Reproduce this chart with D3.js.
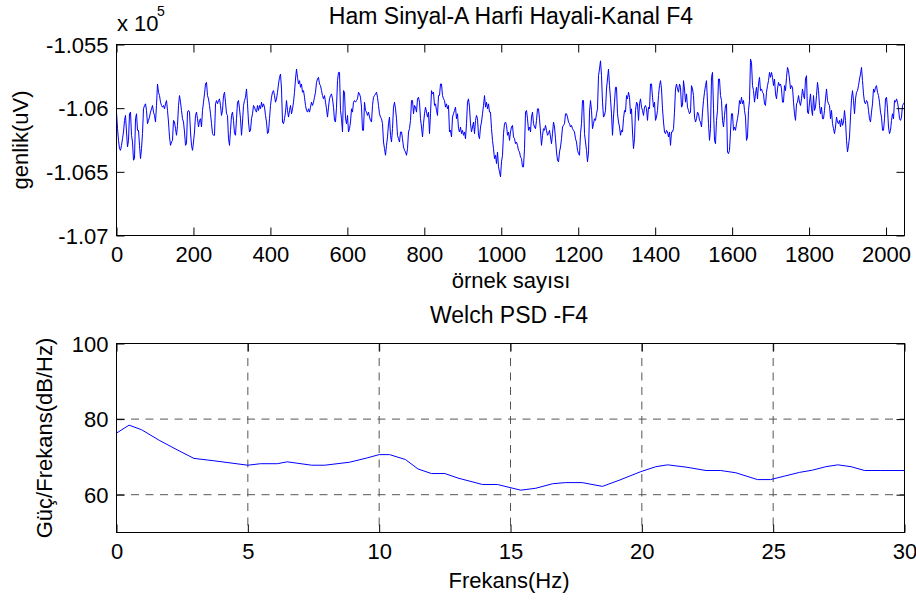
<!DOCTYPE html>
<html>
<head>
<meta charset="utf-8">
<script src="https://cdn.jsdelivr.net/npm/d3@7"></script>
<style>
  body { margin: 0; background: #fff; }
  text { font-family: "Liberation Sans", Arial, sans-serif; fill: #000; }
</style>
</head>
<body>
<script>
// raw EEG signal, one reading every ~2.6 samples (uV)
const rawSignal = [
  -106031, -106161, -106253, -106318, -106331, -106292, -106240, -106187, -106096, -106057, -106187, -106305, -106253, -106044, -106031,
  -106213, -106266, -106409, -106396, -106083, -106044, -106174, -106174, -106292, -106396, -106318, -106200, -106005, -105979, -105966,
  -106018, -106122, -106096, -106070, -106031, -106005, -105979, -106031, -106057, -106109, -105979, -105810, -105875, -105901, -105953,
  -105979, -105992, -105979, -106005, -105966, -105940, -106018, -106109, -106226, -106292, -106266, -106253, -106096, -106109, -106161,
  -106213, -106135, -105979, -105901, -105953, -106018, -106083, -106109, -106187, -106292, -106279, -106031, -106018, -106031, -106187,
  -106292, -106331, -106266, -106187, -106057, -106031, -106083, -106148, -106096, -106083, -106148, -106018, -105953, -105888, -105810,
  -105797, -105901, -105927, -105979, -106044, -106122, -106200, -106213, -106213, -105966, -105940, -105966, -105940, -105927, -105979,
  -106057, -106018, -105901, -105875, -105953, -106044,
  // ~290 - 580
  -106057, -106240, -106292, -106174, -106057, -106031, -106096, -106200, -106213, -106083, -105953, -105940, -106005, -106083, -106213,
  -106109, -105979, -105940, -105914, -105849, -105966, -106109, -106187, -106174, -106083, -106044, -105979, -105992, -106018, -106031,
  -105979, -106018, -105979, -106005, -105953, -105992, -105966, -105992, -106057, -106109, -106200, -106187, -106083, -105979, -105914,
  -105875, -105862, -105901, -105953, -105927, -105875, -105810, -105758, -105732, -105849, -106109, -106122, -106083, -106031, -105940,
  -106018, -106070, -106018, -105979, -106044, -106005, -105953, -105875, -105771, -105693, -105758, -105810, -105784, -105836, -105810,
  -105875, -105862, -105914, -105979, -106018, -106031, -106005, -106031, -105992, -105953, -105979, -105953, -105914, -105875, -105797,
  -105771, -105758, -105810, -105823, -105862, -105901, -105927, -105901, -105953, -106005, -106070, -105992, -105927, -105901, -105888,
  -105927, -105992, -106096, -106109, -105992, -105784, -105719, -105719,
  // ~585 - 875
  -106018, -106083, -106187, -105862, -105875, -106083, -106122, -106057, -106187, -106161, -106109, -106005, -106031, -105953, -105940,
  -105953, -105940, -105927, -105875, -105888, -105914, -105992, -106174, -106174, -105953, -106018, -106031, -106057, -106031, -106070,
  -106096, -106109, -105979, -105914, -105901, -105888, -105875, -105914, -105979, -106044, -106070, -106083, -106122, -106266, -106318,
  -106370, -106292, -106226, -106122, -106070, -106213, -106266, -106161, -105992, -105953, -106005, -106083, -106213, -106240, -106266,
  -106187, -106187, -106240, -106305, -106331, -106344, -106370, -106318, -106187, -106161, -106096, -105940, -105940, -106044, -105979,
  -105992, -106031, -105927, -105914, -105953, -106083, -106148, -106226, -106122, -106044, -105992, -106031, -106070, -106031, -106200,
  -106044, -105862, -105888, -105875, -105979, -105966, -106018, -106057, -105901, -105901, -105810, -105810, -105901, -105927, -105940,
  -105992, -105966, -106005, -105979, -106187, -106174, -106226, -106070,
  // ~880 - 1170
  -106044, -106018, -105992, -106083, -106044, -106161, -106187, -106148, -106200, -106174, -106213, -106187, -106240, -106122, -105953,
  -105927, -105992, -106122, -106187, -106148, -106109, -106200, -106096, -106057, -106083, -106213, -106240, -106148, -106109, -106044,
  -105979, -105901, -105992, -105953, -106005, -105966, -106031, -106031, -106161, -106253, -106318, -106396, -106370, -106435, -106344,
  -106461, -106500, -106539, -106422, -106370, -106200, -106122, -106109, -106135, -106213, -106187, -106253, -106187, -106148, -106135,
  -106226, -106240, -106279, -106266, -106292, -106331, -106344, -106383, -106396, -106461, -106461, -106318, -106031, -106018, -106083,
  -106174, -106148, -106187, -106070, -106031, -106122, -106148, -106161, -106096, -106005, -106005, -106083, -106187, -106292, -106213,
  -106161, -106174, -106135, -106174, -106213, -106200, -106174, -106226, -106279, -106200, -106109, -106148, -106240, -106344, -106409,
  -106422, -106344, -106305, -106240, -106148, -106135, -106122, -106044,
  // ~1170 - 1460
  -106044, -106070, -106109, -106122, -106148, -106135, -106161, -106174, -106187, -106240, -106266, -106331, -106357, -106370, -106200,
  -106122, -105940, -105940, -106200, -106266, -106331, -106422, -106344, -106031, -105940, -106018, -106161, -106122, -106083, -106096,
  -106044, -106005, -105745, -105693, -105628, -105745, -105953, -106070, -106057, -106018, -105849, -105771, -105693, -105823, -105927,
  -106044, -106213, -106070, -105953, -105836, -105836, -106044, -106109, -106148, -106213, -106174, -106187, -106083, -106018, -106031,
  -105901, -105927, -105875, -105914, -106044, -106005, -106187, -106318, -106240, -106018, -105953, -105966, -106096, -105966, -105927,
  -105992, -106018, -106057, -105992, -105979, -106005, -106096, -105992, -106005, -105810, -105810, -105914, -105992, -105953, -106096,
  -106070, -106018, -105901, -105823, -105784, -105849, -106005, -106109, -106187, -106200, -106174, -106187, -106226, -106187, -106292,
  -106187, -106187, -106161, -106031, -105849, -105810, -105849, -105875,
  // ~1465 - 1755
  -105810, -105836, -105992, -105979, -105784, -105849, -105953, -105888, -105992, -106018, -106044, -106031, -105823, -105849, -105901,
  -106070, -106109, -106083, -106031, -106044, -106096, -106109, -106148, -106031, -105940, -105875, -105823, -105784, -105953, -106122,
  -106253, -106161, -105758, -105719, -106005, -106253, -106279, -106096, -106018, -105771, -105771, -105901, -105940, -106096, -106148,
  -106057, -105979, -105966, -106344, -106357, -106331, -106187, -106044, -106044, -106174, -106148, -106174, -106122, -106083, -106031,
  -105940, -105966, -105914, -105966, -105940, -106018, -106070, -106253, -106226, -106018, -105940, -105615, -105641, -105823, -105862,
  -105953, -105888, -105836, -105927, -105810, -105758, -105862, -105849, -105875, -105888, -105966, -105979, -105875, -105823, -105784,
  -105719, -105758, -105719, -105758, -105823, -105771, -105888, -105927, -105849, -105797, -105823, -105810, -105849, -105953, -105953,
  -105823, -105862, -105758, -105680, -105706, -105771, -105849, -105823,
  // ~1760 - 2048
  -105836, -105953, -106044, -106096, -105966, -105953, -105901, -105953, -105979, -105927, -105849, -105901, -105927, -105771, -105745,
  -106031, -106044, -105953, -105888, -106005, -106057, -105901, -106018, -105992, -105901, -105797, -105862, -105979, -106044, -105992,
  -106083, -106083, -106018, -105927, -105849, -105940, -105966, -105979, -106083, -106018, -106122, -106161, -106200, -106148, -106070,
  -106109, -106122, -106096, -106148, -106083, -106135, -106109, -106018, -106096, -106253, -106344, -106292, -106226, -106070, -105927,
  -105862, -105940, -106044, -105927, -105875, -105862, -105823, -105771, -105732, -105680, -105784, -105888, -105953, -105966, -105940,
  -105953, -106018, -106083, -106109, -106031, -105966, -105849, -105875, -105836, -105823, -105875, -105901, -105953, -106031, -106070,
  -106174, -106174, -106083, -105927, -105914, -106005, -106148, -106200, -106174, -106096, -106044, -106083, -105940, -105953, -105927,
  -105953, -106005, -106083, -106096, -106070, -105979, -105966, -105953
];
const sampleCount = 2048;

const rawYTicks = [-107000, -106500, -106000, -105500];
const rawXTicks = [0, 200, 400, 600, 800, 1000, 1200, 1400, 1600, 1800, 2000];

// Welch PSD
const psdFreq = [0, 0.48, 0.95, 1.65, 2.41, 2.95, 3.68, 5, 5.48, 6.12, 6.5, 7.43, 7.93, 8.88, 9.52, 10, 10.4,
  11.0, 11.48, 11.99, 12.5, 13.0, 13.93, 14.5, 15.39, 15.96, 16.6, 17.1, 17.73, 18.5, 19.13, 19.96, 20.53,
  20.98, 21.68, 22.44, 23.0, 23.58, 24.4, 24.9, 25.42, 26.0, 26.5, 27.0, 27.46, 27.97, 28.48, 29.1, 30];
const psdDb = [76.3, 78.4, 77.2, 74.3, 71.5, 69.6, 69.0, 67.8, 68.2, 68.2, 68.7, 67.8, 67.8, 68.6, 69.7, 70.6, 70.6,
  69.3, 66.8, 65.6, 65.6, 64.4, 62.7, 62.7, 61.2, 61.7, 62.9, 63.2, 63.2, 62.2, 63.8, 66.1, 67.4,
  67.9, 67.3, 66.4, 66.4, 65.8, 64.0, 64.0, 64.9, 65.9, 66.5, 67.4, 67.9, 67.4, 66.4, 66.4, 66.4];
const psdXTicks = [0, 5, 10, 15, 20, 25, 30];
const psdYTicks = [60, 80, 100];
const psdGridX = [5, 10, 15, 20, 25];
const psdGridY = [60, 80];

const width = 916;
const height = 602;
const svg = d3.select("body").append("svg")
    .attr("width", width)
    .attr("height", height);

svg.append("rect").attr("width", width).attr("height", height).attr("fill", "#fff");

const left = 116.5, right = 904.5;
const tickLen = 8;

function frame(g, x, y, xTicks, yTicks, yFmt) {
    const [y0, y1] = y.range();
    g.append("g")
        .attr("transform", `translate(0,${y0})`)
        .call(d3.axisBottom(x).tickValues(xTicks).tickSize(-tickLen).tickFormat(d3.format("d")))
        .call(a => a.select(".domain").remove())
        .call(a => a.selectAll("text").attr("y", 26).attr("dy", null).style("font-size", "22px"));
    g.append("g")
        .attr("transform", `translate(0,${y1})`)
        .call(d3.axisTop(x).tickValues(xTicks).tickSize(-tickLen).tickFormat(""))
        .call(a => a.select(".domain").remove());
    g.append("g")
        .attr("transform", `translate(${left},0)`)
        .call(d3.axisLeft(y).tickValues(yTicks).tickSize(-tickLen).tickPadding(8).tickFormat(yFmt))
        .call(a => a.select(".domain").remove())
        .call(a => a.selectAll("text").attr("dy", "0.35em").style("font-size", "22px"));
    g.append("g")
        .attr("transform", `translate(${right},0)`)
        .call(d3.axisRight(y).tickValues(yTicks).tickSize(-tickLen).tickFormat(""))
        .call(a => a.select(".domain").remove());
    g.selectAll(".tick line").attr("stroke", "#000");
    g.append("rect")
        .attr("x", left).attr("y", y1)
        .attr("width", right - left).attr("height", y0 - y1)
        .attr("fill", "none").attr("stroke", "#000").attr("stroke-width", 1);
}

// ---- top: raw signal ----
const xRaw = d3.scaleLinear().domain([0, sampleCount]).range([left, right]);
const yRaw = d3.scaleLinear().domain([-107000, -105500]).range([235.5, 44.5]);
const topPanel = svg.append("g");

topPanel.append("path")
    .datum(rawSignal)
    .attr("fill", "none")
    .attr("stroke", "#0000ff")
    .attr("stroke-width", 1)
    .attr("d", d3.line()
        .x((d, i) => xRaw(i * sampleCount / (rawSignal.length - 1)))
        .y(d => yRaw(d)));

frame(topPanel, xRaw, yRaw, rawXTicks, rawYTicks, d => String(+(d / 1e5).toFixed(3)));

topPanel.append("text").attr("x", 117).attr("y", 30.5).style("font-size", "22px").text("x 10");
topPanel.append("text").attr("x", 157).attr("y", 16).style("font-size", "14px").text("5");
topPanel.append("text").attr("x", 511).attr("y", 24).attr("text-anchor", "middle")
    .style("font-size", "23px").text("Ham Sinyal-A Harfi Hayali-Kanal F4");
topPanel.append("text").attr("x", 511).attr("y", 288).attr("text-anchor", "middle")
    .style("font-size", "22px").text("örnek sayısı");
topPanel.append("text").attr("transform", "translate(28,140) rotate(-90)").attr("text-anchor", "middle")
    .style("font-size", "22px").text("genlik(uV)");

// ---- bottom: Welch PSD ----
const xPsd = d3.scaleLinear().domain([0, 30]).range([left, right]);
const yPsd = d3.scaleLinear().domain([50, 100]).range([532.5, 343.5]);
const bottomPanel = svg.append("g");

bottomPanel.append("g").selectAll("line")
    .data(psdGridX).join("line")
    .attr("x1", d => xPsd(d)).attr("x2", d => xPsd(d))
    .attr("y1", yPsd(100)).attr("y2", yPsd(50));
bottomPanel.append("g").selectAll("line")
    .data(psdGridY).join("line")
    .attr("x1", left).attr("x2", right)
    .attr("y1", d => yPsd(d)).attr("y2", d => yPsd(d));
bottomPanel.selectAll("line")
    .attr("stroke", "#555").attr("stroke-width", 1).attr("stroke-dasharray", "8,6.5");

bottomPanel.append("path")
    .datum(psdFreq.map((f, i) => [f, psdDb[i]]))
    .attr("fill", "none")
    .attr("stroke", "#0000ff")
    .attr("stroke-width", 1)
    .attr("d", d3.line().x(d => xPsd(d[0])).y(d => yPsd(d[1])));

frame(bottomPanel, xPsd, yPsd, psdXTicks, psdYTicks, d3.format("d"));

bottomPanel.append("text").attr("x", 509).attr("y", 323).attr("text-anchor", "middle")
    .style("font-size", "23px").text("Welch PSD -F4");
bottomPanel.append("text").attr("x", 509).attr("y", 588).attr("text-anchor", "middle")
    .style("font-size", "22px").text("Frekans(Hz)");
bottomPanel.append("text").attr("transform", "translate(52,438) rotate(-90)").attr("text-anchor", "middle")
    .style("font-size", "22px").text("Güç/Frekans(dB/Hz)");
</script>
</body>
</html>
